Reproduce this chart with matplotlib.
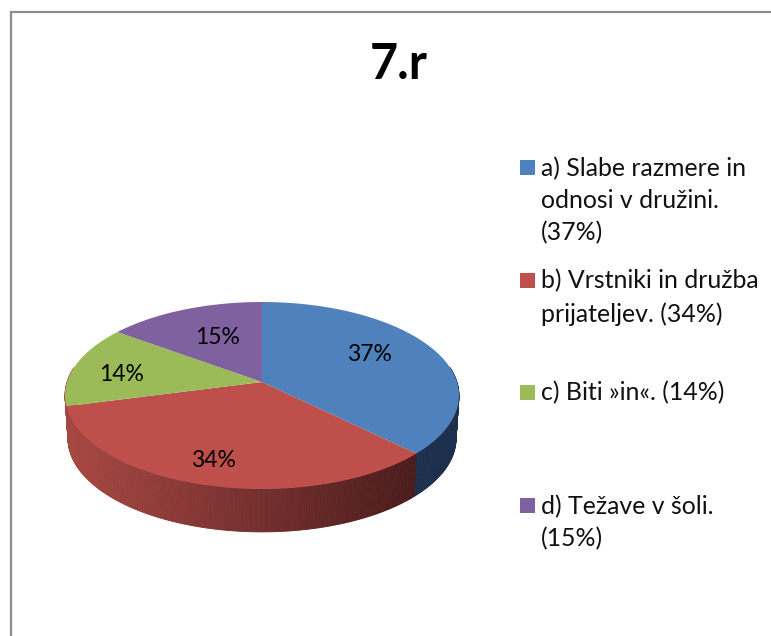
import numpy as np
import matplotlib
matplotlib.use('Agg')
import matplotlib.pyplot as plt
from matplotlib.patches import Polygon, Rectangle

values = [37.4, 33.5, 14.2, 14.9]
pct_labels = ['37%', '34%', '14%', '15%']
legend_labels = ['a) Slabe razmere in\nodnosi v družini.\n(37%)',
                 'b) Vrstniki in družba\nprijateljev. (34%)',
                 'c) Biti »in«. (14%)',
                 'd) Težave v šoli.\n(15%)']
colors = ['#4F81BD', '#BE4F4B', '#9BBB59', '#7F619F']
# the green wall is hardly seen, the reference shows red there
side_left = [(0.13, 0.22, 0.34), (0.66, 0.28, 0.26), (0.64, 0.28, 0.26), (0.38, 0.30, 0.48)]
side_right = [(0.11, 0.19, 0.30), (0.29, 0.11, 0.11), (0.64, 0.28, 0.26), (0.25, 0.19, 0.32)]

# pixel positions of things on the page
pct_pos = [(369, 354.5), (213, 460.5), (122, 374.5), (218, 337.5)]
legend_y = [160, 273, 385, 498]

CX, CY = 262, 382
A, B, K = 194.9, 91.5, 0.144
DEPTH = 43
A_LOW = 192


def project(t, a=A, dy=0):
    # circle seen in perspective, back is squeezed
    d = 1 + K * np.sin(t)
    return CX + a * np.cos(t) / d, CY + dy - B * np.sin(t) / d


fig = plt.figure(figsize=(7.71, 6.36), dpi=100)
ax = fig.add_axes([0, 0, 1, 1])
ax.set_xlim(0, 771)
ax.set_ylim(636, 0)
ax.axis('off')

# slice angles, clockwise from 12 o'clock
fr = np.cumsum([0] + values) / sum(values)
angles = np.pi / 2 - 2 * np.pi * fr

# side wall, cut in thin strips for the shading
for i in range(len(values)):
    t0, t1 = angles[i], angles[i + 1]
    ts = np.linspace(t0, t1, int(abs(t1 - t0) * 90) + 2)
    for j in range(len(ts) - 1):
        if np.sin(ts[j]) > 0.16 and np.sin(ts[j + 1]) > 0.16:
            continue
        xa, ya = project(ts[j])
        xb, yb = project(ts[j + 1])
        xc, yc = project(ts[j + 1], A_LOW, DEPTH)
        xd, yd = project(ts[j], A_LOW, DEPTH)
        f = (xa - 66) / (415 - 66)
        f = min(max(f, 0), 1)
        c = [side_left[i][n] + (side_right[i][n] - side_left[i][n]) * f for n in range(3)]
        ax.add_patch(Polygon([(xa, ya), (xb, yb), (xc, yc), (xd, yd)], fc=c, ec=c, lw=0.6))

# top face
for i in range(len(values)):
    ts = np.linspace(angles[i], angles[i + 1], 200)
    xs, ys = project(ts)
    pts = [(CX, CY)] + list(zip(xs, ys))
    ax.add_patch(Polygon(pts, fc=colors[i], ec='none'))
    ax.text(pct_pos[i][0], pct_pos[i][1], pct_labels[i], fontsize=16.5, family='Lato',
            ha='center', va='center', color='black')

ax.text(399, 79, '7.r', fontsize=35, family='Lato', fontweight='bold', ha='center', va='baseline')

for i in range(len(values)):
    ax.add_patch(Rectangle((520, legend_y[i]), 15, 15, fc=colors[i], ec='none'))
    ax.text(541, legend_y[i] - 3.5, legend_labels[i], fontsize=17.9, family='Lato',
            ha='left', va='top', linespacing=1.47, color='#111111')

# page edge, only left and top are there
ax.plot([10.5, 10.5, 771], [636, 11.5, 11.5], color='#8c8c8c', lw=1.6, solid_joinstyle='miter')

fig.savefig('out.png', dpi=100, facecolor='white')
